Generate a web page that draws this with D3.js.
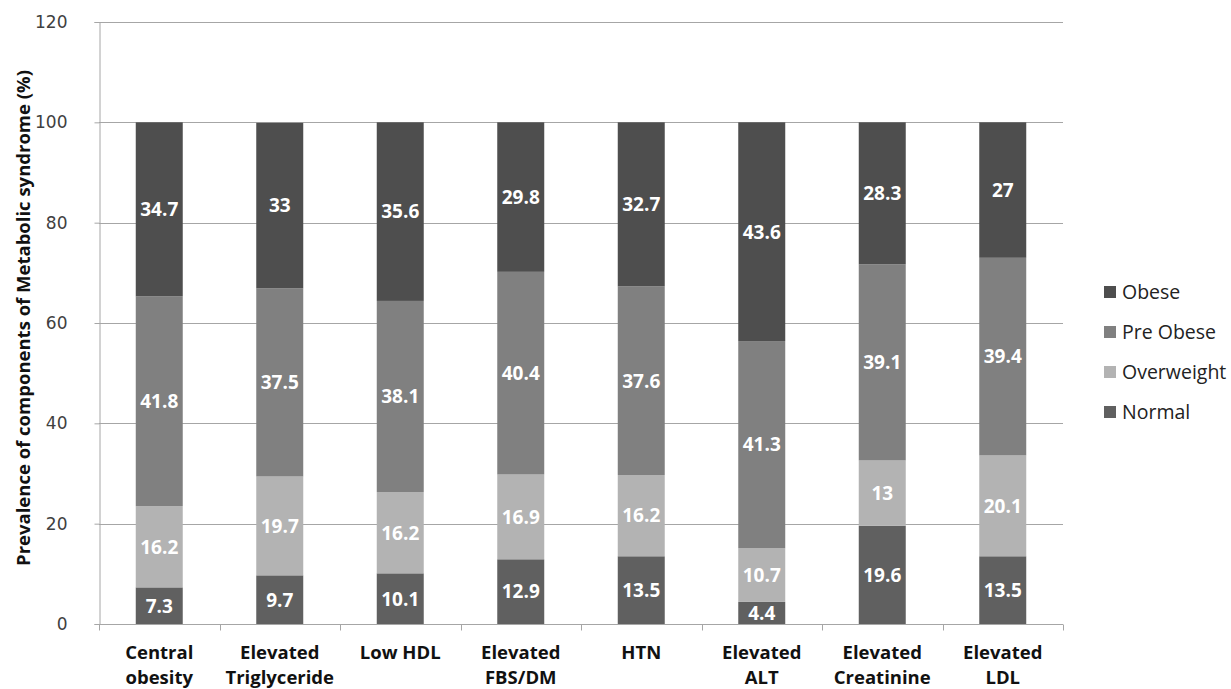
<!DOCTYPE html>
<html>
<head>
<meta charset="utf-8">
<script src="https://cdn.jsdelivr.net/npm/d3@7"></script>
<style>
  body { margin: 0; background: #fff; }
  svg { display: block; }
</style>
</head>
<body>
<div id="chart"></div>
<script>
// Stacked bars - components of metabolic syndrome by BMI group

// data
var categories = [
  ["Central", "obesity"],
  ["Elevated", "Triglyceride"],
  ["Low HDL"],
  ["Elevated", "FBS/DM"],
  ["HTN"],
  ["Elevated", "ALT"],
  ["Elevated", "Creatinine"],
  ["Elevated", "LDL"]
];
var seriesNames = ["Normal", "Overweight", "Pre Obese", "Obese"];
var normal     = [7.3, 9.7, 10.1, 12.9, 13.5, 4.4, 19.6, 13.5];
var overweight = [16.2, 19.7, 16.2, 16.9, 16.2, 10.7, 13, 20.1];
var preObese   = [41.8, 37.5, 38.1, 40.4, 37.6, 41.3, 39.1, 39.4];
var obese      = [34.7, 33, 35.6, 29.8, 32.7, 43.6, 28.3, 27];
var yTicks = [0, 20, 40, 60, 80, 100, 120];

var colors = {
  "Normal": "#606060",
  "Overweight": "#b3b3b3",
  "Pre Obese": "#808080",
  "Obese": "#4e4e4e"
};

// sizes
var width = 1231, height = 689;
var plot = { left: 99, right: 1063, top: 22, bottom: 624 };

var svg = d3.select("#chart").append("svg")
  .attr("width", width)
  .attr("height", height);

var x = d3.scaleBand()
  .domain(d3.range(categories.length))
  .range([plot.left, plot.right])
  .paddingInner(0.61)
  .paddingOuter(0.305);

var xOuter = d3.scaleBand()
  .domain(d3.range(categories.length))
  .range([plot.left, plot.right]);

var y = d3.scaleLinear().domain([0, 120]).range([plot.bottom, plot.top]);

// gridlines
svg.append("g")
  .selectAll("line")
  .data(yTicks.slice(1))
  .join("line")
  .attr("x1", plot.left).attr("x2", plot.right)
  .attr("y1", function(d) { return Math.round(y(d)) + 0.5; })
  .attr("y2", function(d) { return Math.round(y(d)) + 0.5; })
  .attr("stroke", "#a6a6a6")
  .attr("stroke-width", 1);

// stack
var rows = categories.map(function(c, i) {
  return { i: i, "Normal": normal[i], "Overweight": overweight[i], "Pre Obese": preObese[i], "Obese": obese[i] };
});
var stacked = d3.stack().keys(seriesNames)(rows);

var layers = svg.append("g").selectAll("g")
  .data(stacked)
  .join("g")
  .attr("fill", function(d) { return colors[d.key]; });

layers.selectAll("rect")
  .data(function(d) { return d; })
  .join("rect")
  .attr("x", function(d) { return x(d.data.i); })
  .attr("width", x.bandwidth())
  .attr("y", function(d) { return y(d[1]); })
  .attr("height", function(d) { return y(d[0]) - y(d[1]); });

// value labels
var labels = svg.append("g")
  .attr("font-family", "'Open Sans', sans-serif")
  .attr("font-weight", "bold")
  .attr("font-size", 19)
  .attr("fill", "#fff")
  .attr("text-anchor", "middle");

stacked.forEach(function(layer) {
  labels.selectAll(null)
    .data(layer)
    .join("text")
    .attr("x", function(d) { return x(d.data.i) + x.bandwidth() / 2; })
    .attr("y", function(d) { return y((d[0] + d[1]) / 2); })
    .attr("dy", "0.36em")
    .text(function(d) { return d.data[layer.key]; });
});

// y axis
var yAxis = svg.append("g")
  .attr("transform", "translate(" + (plot.left + 0.5) + ",0)")
  .call(d3.axisLeft(y).tickValues(yTicks).tickSize(5).tickPadding(27));
yAxis.select(".domain").attr("stroke", "#a6a6a6");
yAxis.selectAll(".tick line").attr("stroke", "#a6a6a6");
yAxis.selectAll(".tick text")
  .attr("font-family", "'DejaVu Sans', sans-serif")
  .attr("font-size", 17)
  .attr("fill", "#404040");

// x axis
var xAxisG = svg.append("g")
  .attr("transform", "translate(0," + (plot.bottom + 0.5) + ")");
xAxisG.append("line")
  .attr("x1", plot.left).attr("x2", plot.right)
  .attr("stroke", "#a6a6a6");
xAxisG.selectAll("line.tk")
  .data(d3.range(categories.length + 1))
  .join("line")
  .attr("class", "tk")
  .attr("x1", function(d) { return Math.round(plot.left + d * xOuter.step()) + 0.5; })
  .attr("x2", function(d) { return Math.round(plot.left + d * xOuter.step()) + 0.5; })
  .attr("y1", 0).attr("y2", 6)
  .attr("stroke", "#a6a6a6");

var catText = xAxisG.selectAll("text.cat")
  .data(categories)
  .join("text")
  .attr("class", "cat")
  .attr("text-anchor", "middle")
  .attr("font-family", "'Open Sans', sans-serif")
  .attr("font-weight", "bold")
  .attr("font-size", 18.5)
  .attr("fill", "#111")
  .attr("x", function(d, i) { return x(i) + x.bandwidth() / 2; })
  .attr("y", 34);
catText.selectAll("tspan")
  .data(function(d) { return d; })
  .join("tspan")
  .attr("x", function() { return this.parentNode.getAttribute("x"); })
  .attr("dy", function(d, j) { return j === 0 ? 0 : 25; })
  .text(function(d) { return d; });

// y axis title
svg.append("text")
  .attr("transform", "translate(30," + ((plot.top + plot.bottom) / 2 - 5) + ")rotate(-90)")
  .attr("text-anchor", "middle")
  .attr("font-family", "'Open Sans', sans-serif")
  .attr("font-weight", "bold")
  .attr("font-size", 18.5)
  .attr("fill", "#111")
  .text("Prevalence of components  of Metabolic syndrome (%)");

// legend
var legend = svg.append("g")
  .attr("transform", "translate(1104,292)");
var legendItems = legend.selectAll("g")
  .data(seriesNames.slice().reverse())
  .join("g")
  .attr("transform", function(d, i) { return "translate(0," + i * 40 + ")"; });
legendItems.append("rect")
  .attr("x", 0).attr("y", -6)
  .attr("width", 12).attr("height", 12)
  .attr("fill", function(d) { return colors[d]; });
legendItems.append("text")
  .attr("x", 18).attr("dy", "0.35em")
  .attr("font-family", "'Open Sans', sans-serif")
  .attr("font-size", 19.5)
  .attr("fill", "#222")
  .text(function(d) { return d; });
</script>
</body>
</html>
